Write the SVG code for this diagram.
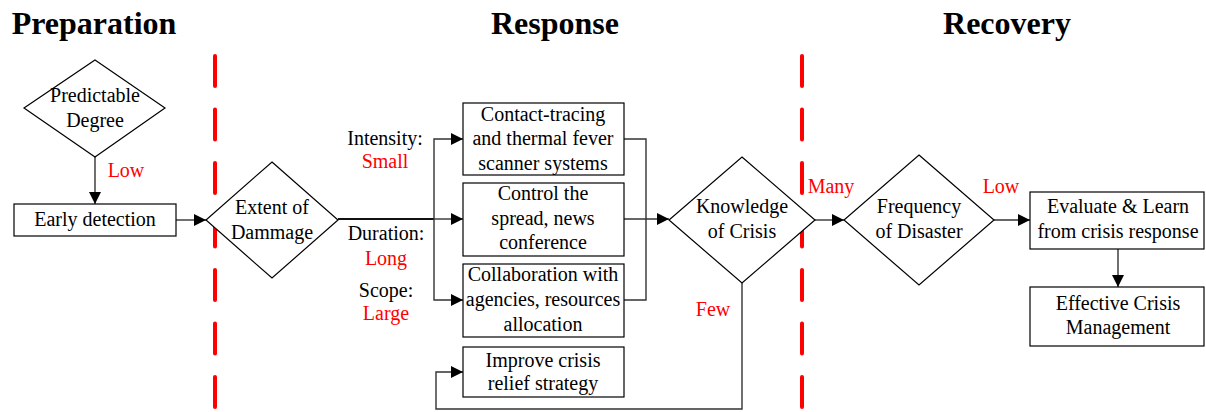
<svg xmlns="http://www.w3.org/2000/svg" width="1206" height="412" viewBox="0 0 1206 412">
<style>
.t{font-family:"Liberation Serif","Times New Roman",serif;font-size:20px;fill:#000;text-anchor:middle}
.r{fill:#ff0000}
.h{font-family:"Liberation Serif","Times New Roman",serif;font-size:32px;font-weight:bold;fill:#000;text-anchor:middle}
.n{fill:#fff;stroke:#000;stroke-width:1.2}
.c{fill:none;stroke:#333;stroke-width:1.4}
.d{stroke:#ff0000;stroke-width:4;stroke-linecap:round;stroke-dasharray:30 23.5;fill:none}
</style>
<defs>
<marker id="a" markerUnits="userSpaceOnUse" markerWidth="13" markerHeight="12" refX="12" refY="6" orient="auto">
<path d="M0,0 L12,6 L0,12 Z" fill="#000"/>
</marker>
</defs>
<rect width="1206" height="412" fill="#fff"/>
<g id="titles">
<text class="h" x="94" y="34">Preparation</text>
<text class="h" x="555" y="34">Response</text>
<text class="h" x="1007" y="34">Recovery</text>
</g>
<g id="dividers">
<line class="d" x1="215" y1="56" x2="215" y2="412"/>
<line class="d" x1="802" y1="56" x2="802" y2="412"/>
</g>
<g id="connectors">
<line class="c" x1="95" y1="157" x2="95" y2="204" marker-end="url(#a)"/>
<line class="c" x1="176" y1="220" x2="206" y2="220" marker-end="url(#a)"/>
<line class="c" x1="338" y1="219" x2="434" y2="219" style="stroke-width:2;stroke:#111"/>
<line class="c" x1="434" y1="219" x2="463" y2="219" marker-end="url(#a)"/>
<polyline class="c" points="434,219 434,139 463,139" marker-end="url(#a)"/>
<polyline class="c" points="434,219 434,300 463,300" marker-end="url(#a)"/>
<polyline class="c" points="624,139 646,139 646,300 624,300"/>
<line class="c" x1="624" y1="219" x2="669" y2="219" marker-end="url(#a)"/>
<line class="c" x1="815" y1="220" x2="844" y2="220" marker-end="url(#a)"/>
<line class="c" x1="994" y1="220" x2="1030" y2="220" marker-end="url(#a)"/>
<line class="c" x1="1118" y1="249" x2="1118" y2="287" marker-end="url(#a)"/>
<polyline class="c" points="742,283 742,409 436,409 436,372 463,372" marker-end="url(#a)"/>
</g>
<g id="labels">
<text class="t r" x="126" y="177">Low</text>
<text class="t" x="385" y="145">Intensity:</text>
<text class="t r" x="385" y="168">Small</text>
<text class="t" x="386" y="240">Duration:</text>
<text class="t r" x="386" y="265">Long</text>
<text class="t" x="386" y="297">Scope:</text>
<text class="t r" x="386" y="320">Large</text>
<text class="t r" x="831" y="193">Many</text>
<text class="t r" x="1001" y="193">Low</text>
<text class="t r" x="713" y="316">Few</text>
</g>
<g id="predictable">
<path class="n" d="M95,60 L165,108 L95,157 L24,108 Z"/>
<text class="t" x="95" y="102">Predictable</text>
<text class="t" x="95" y="127">Degree</text>
</g>
<g id="early">
<rect class="n" x="14" y="204" width="162" height="32"/>
<text class="t" x="95" y="226">Early detection</text>
</g>
<g id="extent">
<path class="n" d="M272,162 L338,220 L272,278 L206,220 Z"/>
<text class="t" x="272" y="214">Extent of</text>
<text class="t" x="272" y="239">Dammage</text>
</g>
<g id="contact">
<rect class="n" x="463" y="103" width="161" height="72"/>
<text class="t" x="543" y="121">Contact-tracing</text>
<text class="t" x="543" y="145">and thermal fever</text>
<text class="t" x="543" y="170">scanner systems</text>
</g>
<g id="control">
<rect class="n" x="463" y="183" width="161" height="73"/>
<text class="t" x="543" y="200">Control the</text>
<text class="t" x="543" y="225">spread, news</text>
<text class="t" x="543" y="249">conference</text>
</g>
<g id="collab">
<rect class="n" x="463" y="264" width="161" height="73"/>
<text class="t" x="543" y="281">Collaboration with</text>
<text class="t" x="543" y="306">agencies, resources</text>
<text class="t" x="543" y="331">allocation</text>
</g>
<g id="improve">
<rect class="n" x="463" y="347" width="161" height="50"/>
<text class="t" x="543" y="367">Improve crisis</text>
<text class="t" x="543" y="390">relief strategy</text>
</g>
<g id="knowledge">
<path class="n" d="M742,157 L815,220 L742,283 L669,220 Z"/>
<text class="t" x="742" y="213">Knowledge</text>
<text class="t" x="742" y="238">of Crisis</text>
</g>
<g id="frequency">
<path class="n" d="M919,155 L994,220 L919,285 L844,220 Z"/>
<text class="t" x="919" y="213">Frequency</text>
<text class="t" x="919" y="238">of Disaster</text>
</g>
<g id="evaluate">
<rect class="n" x="1030" y="192" width="174" height="57"/>
<text class="t" x="1118" y="213">Evaluate &amp; Learn</text>
<text class="t" x="1118" y="238">from crisis response</text>
</g>
<g id="effective">
<rect class="n" x="1030" y="287" width="174" height="59"/>
<text class="t" x="1118" y="310">Effective Crisis</text>
<text class="t" x="1118" y="334">Management</text>
</g>
</svg>
